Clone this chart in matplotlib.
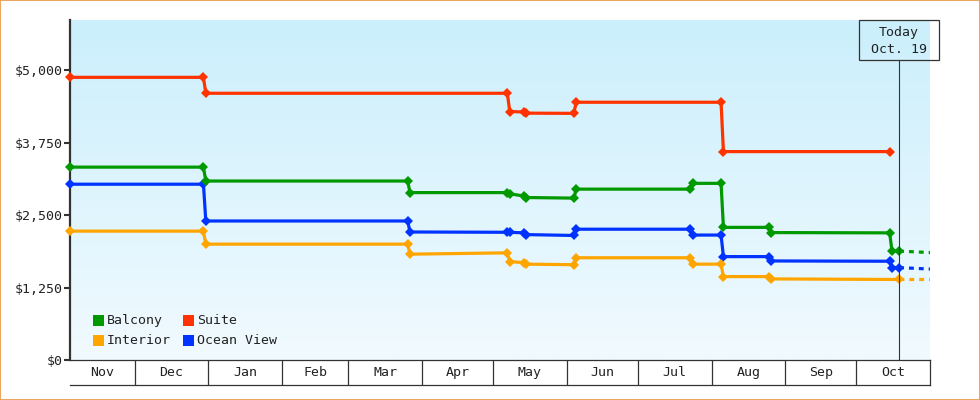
import numpy as np
import matplotlib
matplotlib.use('Agg')
import matplotlib.pyplot as plt
from matplotlib.patches import Rectangle
from matplotlib.colors import LinearSegmentedColormap

plt.rcParams['font.family'] = ['DejaVu Sans Mono', 'DejaVu Sans']
plt.rcParams['lines.scale_dashes'] = False

# ---------------- data ----------------
origin = np.datetime64('2022-11-01')
axis_start = '2022-11-04'
axis_end = '2023-11-01'
today = '2023-10-19'
today_label = 'Today\nOct. 19'

months = ['Nov', 'Dec', 'Jan', 'Feb', 'Mar', 'Apr', 'May', 'Jun', 'Jul', 'Aug', 'Sep', 'Oct']
month_starts = ['2022-11-01', '2022-12-01', '2023-01-01', '2023-02-01', '2023-03-01', '2023-04-01',
                '2023-05-01', '2023-06-01', '2023-07-01', '2023-08-01', '2023-09-01', '2023-10-01',
                '2023-11-01']

suite_dates = ['2022-11-04', '2022-12-30', '2022-12-31', '2023-05-07', '2023-05-08', '2023-05-14',
               '2023-05-15', '2023-06-04', '2023-06-05', '2023-08-05', '2023-08-06', '2023-10-15']
suite_prices = [4880, 4880, 4605, 4605, 4290, 4282, 4262, 4258, 4450, 4450, 3598, 3598]

balcony_dates = ['2022-11-04', '2022-12-30', '2022-12-31', '2023-03-26', '2023-03-27', '2023-05-07',
                 '2023-05-08', '2023-05-14', '2023-05-15', '2023-06-04', '2023-06-05', '2023-07-23',
                 '2023-07-24', '2023-08-05', '2023-08-06', '2023-08-25', '2023-08-26', '2023-10-15',
                 '2023-10-16', '2023-10-19']
balcony_prices = [3330, 3330, 3090, 3090, 2890, 2890, 2870, 2830, 2805, 2795, 2950, 2950,
                  3050, 3050, 2290, 2290, 2200, 2195, 1880, 1880]

ocean_dates = balcony_dates
ocean_prices = [3035, 3035, 2400, 2400, 2210, 2205, 2205, 2195, 2165, 2150, 2258, 2258,
                2157, 2157, 1785, 1785, 1710, 1705, 1595, 1595]

interior_dates = ['2022-11-04', '2022-12-30', '2022-12-31', '2023-03-26', '2023-03-27', '2023-05-07',
                  '2023-05-08', '2023-05-14', '2023-05-15', '2023-06-04', '2023-06-05', '2023-07-23',
                  '2023-07-24', '2023-08-05', '2023-08-06', '2023-08-25', '2023-08-26', '2023-10-19']
interior_prices = [2225, 2225, 2000, 2000, 1827, 1850, 1700, 1680, 1655, 1645, 1765, 1765,
                   1655, 1655, 1440, 1440, 1400, 1390]

proj_dates = ['2023-10-19', '2023-11-01']
balcony_proj = [1880, 1855]
ocean_proj = [1595, 1570]
interior_proj = [1390, 1390]

y_ticks = [0, 1250, 2500, 3750, 5000]
y_max = 5870

series = [
    ('Ocean View', ocean_dates, ocean_prices, ocean_proj, '#0033ff'),
    ('Interior', interior_dates, interior_prices, interior_proj, '#ffa500'),
    ('Suite', suite_dates, suite_prices, None, '#ff3300'),
    ('Balcony', balcony_dates, balcony_prices, balcony_proj, '#009900'),
]
legend_order = ['Balcony', 'Suite', 'Interior', 'Ocean View']


def days(ds):
    return (np.array(ds, dtype='datetime64[D]') - origin).astype(float)


# ---------------- figure ----------------
W, H = 980, 400
fig = plt.figure(figsize=(W / 100, H / 100), dpi=100)
fig.patch.set_facecolor('white')

L, R, T, B = 70, 930, 20, 360
ax = fig.add_axes([L / W, 1 - B / H, (R - L) / W, (B - T) / H])
x0 = days([axis_start])[0] - 0.2
x1 = days([axis_end])[0]
ax.set_xlim(x0, x1)
ax.set_ylim(0, y_max)

# gradient background
cmap = LinearSegmentedColormap.from_list('bg', ['#f1faff', '#cbeffc'])
grad = np.linspace(0, 1, 256).reshape(-1, 1)
ax.imshow(grad, extent=[0, 1, 0, 1], transform=ax.transAxes, aspect='auto',
          cmap=cmap, origin='lower', zorder=0)

for name, ds, ps, proj, col in series:
    ax.plot(days(ds), ps, color=col, lw=2.3, marker='D', ms=5.0, mew=0,
            zorder=3, clip_on=False, solid_joinstyle='miter')
    if proj is not None:
        ax.plot(days(proj_dates), proj, color=col, lw=2.3, dashes=(3.5, 3.6),
                zorder=2, dash_capstyle='butt')

# today line
td = days([today])[0]
ax.axvline(td, ymin=0, ymax=(B - 60.3) / (B - T), color='#333333', lw=0.8, zorder=4)

# axes styling
for s in ['top', 'right', 'bottom']:
    ax.spines[s].set_visible(False)
ax.spines['left'].set_color('#333333')
ax.spines['left'].set_linewidth(1.6)
ax.spines['left'].set_zorder(2.5)
ax.set_xticks([])
ax.set_yticks(y_ticks)
ax.set_yticklabels(['${:,}'.format(v) for v in y_ticks])
ax.tick_params(axis='y', direction='out', length=4, width=1.5, color='#333333',
               labelsize=9.5, labelcolor='#222222', pad=1.5)

# month boxes
ax2 = fig.add_axes([L / W, 1 - 385 / H, (R - L) / W, 25 / H])
ax2.set_xlim(x0, x1)
ax2.set_ylim(0, 1)
ax2.set_xticks([])
ax2.set_yticks([])
ax2.patch.set_alpha(0)
ax2.spines['left'].set_visible(False)
for s in ['top', 'bottom', 'right']:
    ax2.spines[s].set_color('#333333')
    ax2.spines[s].set_linewidth(0.9)
ms_days = days(month_starts)
for d in ms_days[1:-1]:
    ax2.axvline(d, color='#333333', lw=0.9)
for i, m in enumerate(months):
    a = max(ms_days[i], x0)
    b = min(ms_days[i + 1], x1)
    ax2.text((a + b) / 2, 0.5, m, ha='center', va='center', fontsize=9.5, color='#222222')

# today box
fig.canvas.draw()
tx = ax.transData.transform((td, 0))[0]
bw, bh = 80, 40
fig.patches.append(Rectangle((tx - bw / 2, H - 60.3), bw, bh, transform=None,
                             fill=False, ec='#333333', lw=0.9, zorder=5))
lines = today_label.split('\n')
fig.text(tx / W, 1 - 32.5 / H, lines[0], ha='center', va='center', fontsize=9.5, color='#222222')
fig.text(tx / W, 1 - 49.5 / H, lines[1], ha='center', va='center', fontsize=9.5, color='#222222')

# legend
colors = {n: c for n, _, _, _, c in series}
pos = [(92.7, 315), (183.3, 315), (92.7, 335), (183.3, 335)]
for name, (px, py) in zip(legend_order, pos):
    fig.patches.append(Rectangle((px, H - py - 11), 11, 11, transform=None,
                                 fc=colors[name], ec='none', zorder=6))
    fig.text((px + 14) / W, 1 - (py + 5.7) / H, name, ha='left', va='center',
             fontsize=9.5, color='#222222')

# outer border
fig.patches.append(Rectangle((0, 0), W, H, transform=None, fill=False,
                             ec='#eaa760', lw=1.5, zorder=10))

fig.savefig('out.png', dpi=100, facecolor='white')
